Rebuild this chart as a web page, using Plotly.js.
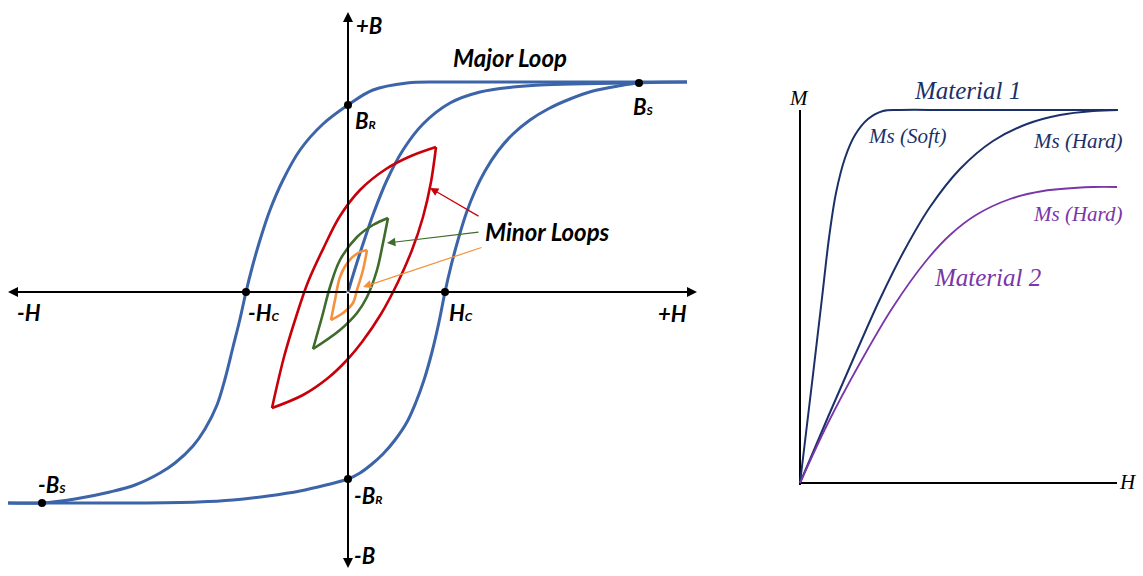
<!DOCTYPE html>
<html>
<head>
<meta charset="utf-8">
<script src="https://cdn.plot.ly/plotly-3.0.1.min.js"></script>
<style>
  html, body { margin: 0; padding: 0; background: #ffffff; }
  #chart { width: 1143px; height: 576px; }
</style>
</head>
<body>
<div id="chart"></div>
<script>
// ---- B–H hysteresis (arbitrary units, origin at H = 0, B = 0) ----
// Major loop, descending branch (from +saturation down to -saturation)
const majorDescH = [339, 250, 180, 132, 90, 59, 25, 0, -25, -48, -65, -78, -88, -96, -102, -108, -115, -123, -131, -143, -155, -173, -188, -213, -238, -273, -306, -340];
const majorDescB = [210, 210, 210, 210, 210, 209, 202, 187, 168, 142, 112, 82, 52, 24, 0, -27, -55, -87, -113, -137, -154, -171, -181, -193, -200, -207, -211, -211];
// Major loop, ascending branch
const majorAscH = [-340, -306, -215, -150, -115, -80, -48, -22, 0, 12, 24, 35, 47, 59, 68, 76, 84, 91, 97, 103, 110, 118, 127, 137, 150, 165, 182, 200, 222, 245, 270, 291, 339];
const majorAscB = [-211, -211, -211, -210, -208, -204, -199, -193, -187, -181, -172, -162, -148, -130, -110, -88, -60, -30, 0, 26, 52, 78, 101, 121, 141, 158, 172, 183, 193, 201, 206, 209, 210];
// Initial magnetisation curve
const initialH = [0, 6, 12, 19, 26, 39, 55, 75, 102, 132, 165, 192, 282];
const initialB = [0, 20, 39, 60, 80, 112, 142, 168, 189, 200, 205, 207, 209];

// Minor loops: upper (rising) and lower (falling) branches
const redUpH = [-76, -64, -52, -40, -24, -8, 12, 38, 63, 88];
const redUpB = [-116, -65, -25, 10, 45, 76, 102, 123, 136, 145];
const redLowH = [88, 83, 75, 64, 50, 33, 14, -1, -20, -45, -76];
const redLowB = [145, 110, 75, 42, 10, -22, -50, -68, -86, -103, -116];

const greenUpH = [-35, -26, -18, -8, 9, 25, 40];
const greenUpB = [-57, -25, 5, 32, 55, 67, 74];
const greenLowH = [40, 35, 29, 19, 9, -8, -35];
const greenLowB = [74, 49, 22, -5, -21, -38, -57];

const orangeUpH = [-17, -13, -8, 0, 10, 19];
const orangeUpB = [-28, -8, 15, 30, 39, 42];
const orangeLowH = [19, 15, 9, 5, -5, -17];
const orangeLowB = [42, 22, 2, -11, -21, -28];

// Characteristic points of the major loop: B_R, B_S, -H_C, H_C, -B_R, -B_S
const keyH = [0, 291, -102, 97, 0, -306];
const keyB = [187, 209, 0, 0, -187, -211];

// ---- M–H magnetisation curves (arbitrary units) ----
const soft1H = [0, 12, 22, 29, 36, 45, 55, 68, 83, 100, 150, 318];
const soft1M = [0, 100, 185, 245, 290, 325, 348, 364, 372, 373, 373, 373];
const hard1H = [0, 28, 55, 80, 104, 130, 160, 193, 227, 260, 293, 318];
const hard1M = [0, 66, 128, 184, 232, 276, 314, 342, 359, 368, 372, 373];
const hard2H = [0, 28, 60, 93, 126, 150, 176, 210, 243, 293, 317];
const hard2M = [0, 60, 120, 176, 222, 248, 268, 284, 292, 296, 296];

const BLUE = '#3c64a8', RED = '#c8000a', GREEN = '#3f6b2b', ORANGE = '#f4913c';
const NAVY = '#1c3068', PURPLE = '#7a35aa';

function curve(x, y, color, width, xa, ya) {
  return { x: x, y: y, type: 'scatter', mode: 'lines', xaxis: xa || 'x', yaxis: ya || 'y',
           line: { color: color, width: width, shape: 'spline', smoothing: 1 },
           hoverinfo: 'skip', showlegend: false };
}
function straight(x, y, color, width, xa, ya) {
  return { x: x, y: y, type: 'scatter', mode: 'lines', xaxis: xa, yaxis: ya,
           line: { color: color, width: width }, hoverinfo: 'skip', showlegend: false };
}

const traces = [
  curve(majorDescH, majorDescB, BLUE, 3),
  curve(majorAscH, majorAscB, BLUE, 3),
  curve(initialH, initialB, BLUE, 3),
  curve(redUpH, redUpB, RED, 2.6), curve(redLowH, redLowB, RED, 2.6),
  curve(greenUpH, greenUpB, GREEN, 2.6), curve(greenLowH, greenLowB, GREEN, 2.6),
  curve(orangeUpH, orangeUpB, ORANGE, 2.6), curve(orangeLowH, orangeLowB, ORANGE, 2.6),
  { x: keyH, y: keyB, type: 'scatter', mode: 'markers', xaxis: 'x', yaxis: 'y',
    marker: { color: '#000000', size: 8 }, hoverinfo: 'skip', showlegend: false },
  // M–H panel axes
  straight([0, 0], [-2, 373], '#000000', 2, 'x2', 'y2'),
  straight([0, 317], [0, 0], '#000000', 2.2, 'x2', 'y2'),
  curve(soft1H, soft1M, NAVY, 2, 'x2', 'y2'),
  curve(hard1H, hard1M, NAVY, 2, 'x2', 'y2'),
  curve(hard2H, hard2M, PURPLE, 1.8, 'x2', 'y2')
];

const LBL = { family: 'Lato, "Open Sans", sans-serif', size: 22, color: '#000000' };
const SERIF = 'Liberation Serif, "DejaVu Serif", serif';

function axisArrow(x, y) {
  return { x: x, y: y, ax: 0, ay: 0, xref: 'x', yref: 'y', axref: 'x', ayref: 'y',
           text: '', showarrow: true, arrowhead: 2, arrowsize: 1, arrowwidth: 2,
           arrowcolor: '#000000', standoff: 0, startstandoff: 0 };
}
function pointer(x, y, ax, ay, color, w) {
  return { x: x, y: y, ax: ax, ay: ay, xref: 'x', yref: 'y', axref: 'x', ayref: 'y',
           text: '', showarrow: true, arrowhead: 2, arrowsize: 1.4, arrowwidth: w,
           arrowcolor: color, standoff: 0, startstandoff: 0 };
}
function label(text, x, y, xanchor, size) {
  return { x: x, y: y, xref: 'x', yref: 'y', text: '<b><i>' + text + '</i></b>',
           showarrow: false, xanchor: xanchor || 'left', yanchor: 'middle',
           font: Object.assign({}, LBL, size ? { size: size } : {}) };
}
function sub(main, s) {
  return main + '<span style="font-size:12px">' + s + '</span>';
}
function serifLabel(text, x, y, color, size) {
  return { x: x, y: y, xref: 'x2', yref: 'y2', text: '<i>' + text + '</i>', showarrow: false,
           xanchor: 'center', yanchor: 'middle', font: { family: SERIF, size: size, color: color } };
}

const annotations = [
  axisArrow(-340, 0), axisArrow(349, 0), axisArrow(0, 280), axisArrow(0, -276),
  pointer(82, 104, 132, 75, RED, 1.2),
  pointer(39, 49, 132, 60, GREEN, 1.2),
  pointer(15, 5, 135, 45, ORANGE, 1.2),
  label('+B', 6, 267),
  label('-B', 4, -263),
  label('-H', -333, -20),
  label('+H', 308, -21),
  label(sub('B', 'R'), 5, 172),
  label(sub('B', 'S'), 283, 186),
  label(sub('-B', 'R'), 4, -203),
  label(sub('-B', 'S'), -312, -192),
  label(sub('-H', 'C'), -102, -20),
  label(sub('H', 'C'), 99, -20),
  label('Major Loop', 162, 235, 'center', 24),
  label('Minor Loops', 199, 61, 'center', 24),
  serifLabel('Material 1', 167, 393, NAVY, 25),
  serifLabel('Ms (Soft)', 107, 347, NAVY, 21),
  serifLabel('Ms (Hard)', 277, 342, NAVY, 21),
  serifLabel('Ms (Hard)', 277, 269, PURPLE, 21),
  serifLabel('Material 2', 187, 206, PURPLE, 25),
  serifLabel('M', -1, 385, '#000000', 21),
  serifLabel('H', 328, 1, '#000000', 21)
];

const hidden = { visible: false, fixedrange: true, showgrid: false, zeroline: false };
const layout = {
  width: 1143, height: 576,
  margin: { l: 0, r: 0, t: 0, b: 0, pad: 0 },
  paper_bgcolor: '#ffffff', plot_bgcolor: 'rgba(0,0,0,0)',
  showlegend: false, hovermode: false,
  xaxis: Object.assign({ domain: [0, 1], range: [-348, 795] }, hidden),
  yaxis: Object.assign({ domain: [0, 1], range: [-284, 292] }, hidden),
  xaxis2: Object.assign({ domain: [760 / 1143, 1], range: [-40, 343], anchor: 'y2' }, hidden),
  yaxis2: Object.assign({ domain: [0, 1], range: [-93, 483], anchor: 'x2' }, hidden),
  annotations: annotations
};

Plotly.newPlot('chart', traces, layout, { staticPlot: true, displayModeBar: false });
</script>
</body>
</html>
